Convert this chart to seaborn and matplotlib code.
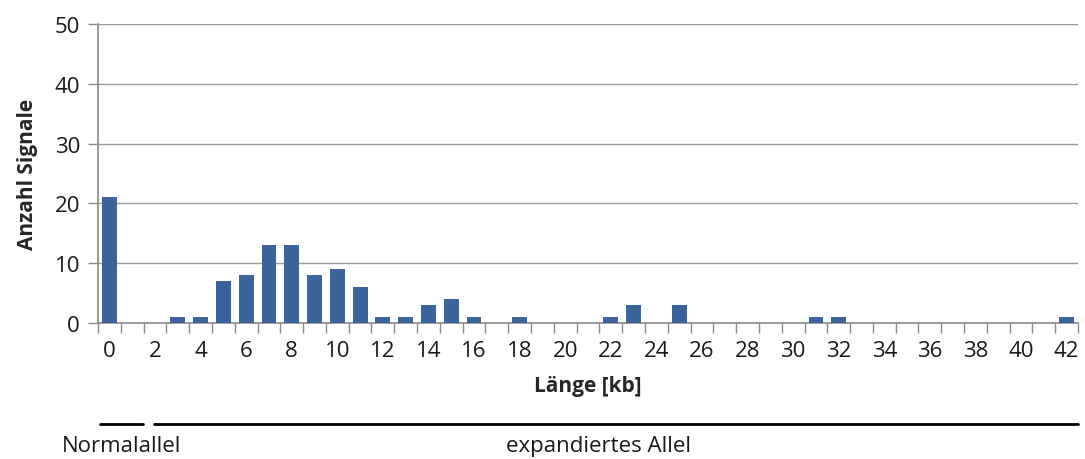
import matplotlib
matplotlib.use("Agg")
import matplotlib.pyplot as plt
import seaborn as sns
import numpy as np
from matplotlib.lines import Line2D

lengths_kb = list(range(0, 43))
signal_counts = [21, 0, 0, 1, 1, 7, 8, 13, 13, 8, 9, 6, 1, 1, 3, 4, 1, 0, 1, 0,
                 0, 0, 1, 3, 0, 3, 0, 0, 0, 0, 0, 1, 1, 0, 0, 0, 0, 0, 0, 0,
                 0, 0, 1]
xtick_values = list(range(0, 43, 2))
ytick_values = [0, 10, 20, 30, 40, 50]

sns.set_theme(style="white")
plt.rcParams['font.family'] = ['Open Sans', 'DejaVu Sans']

W, H = 1085, 460
fig = plt.figure(figsize=(W / 100, H / 100), dpi=100)
ax = fig.add_axes([98 / W, 1 - 324 / H, (1078 - 98) / W, (324 - 25) / H])

sns.barplot(x=lengths_kb, y=signal_counts, order=lengths_kb, color="#3a659c",
            saturation=1, width=0.65, linewidth=0, ax=ax, zorder=3)

ax.set_xlim(-0.5, 42.5)
ax.set_ylim(0, 50)
ax.set_yticks(ytick_values)
ax.set_yticklabels([str(v) for v in ytick_values], fontsize=16, color="#1a1a1a")
ax.yaxis.grid(True, color="#9a9a9a", linewidth=1.0, zorder=0)
ax.xaxis.grid(False)

# category labels (every 2) without tick marks; tick marks at category borders
ax.set_xticks(xtick_values)
ax.set_xticklabels([str(v) for v in xtick_values], fontsize=16, color="#1a1a1a")
ax.tick_params(axis="x", which="major", length=0, pad=12, bottom=True)
ax.set_xticks(np.arange(-0.5, 43, 1), minor=True)
ax.tick_params(axis="x", which="minor", length=7, width=1, color="#8a8a8a",
               direction="out", bottom=True)
ax.tick_params(axis="y", which="major", length=7, width=1, color="#8a8a8a",
               direction="out", left=True, pad=6)

for s in ["top", "right"]:
    ax.spines[s].set_visible(False)
for s in ["left", "bottom"]:
    ax.spines[s].set_color("#8a8a8a")
    ax.spines[s].set_linewidth(1.2)

ax.set_xlabel("Länge [kb]", fontsize=15, fontweight="bold", labelpad=10)
ax.set_ylabel("Anzahl Signale", fontsize=15, fontweight="bold", labelpad=12)

# group brackets below the axis
y_line = 1 - 425 / H
fig.add_artist(Line2D([100 / W, 143 / W], [y_line, y_line], color="black", linewidth=2))
fig.add_artist(Line2D([154 / W, 1078 / W], [y_line, y_line], color="black", linewidth=2))
fig.text(122 / W, 1 - 447 / H, "Normalallel", fontsize=16, ha="center", va="center", color="#1a1a1a")
fig.text(598 / W, 1 - 447 / H, "expandiertes Allel", fontsize=16, ha="center", va="center", color="#1a1a1a")

fig.savefig("out.png", dpi=100)
